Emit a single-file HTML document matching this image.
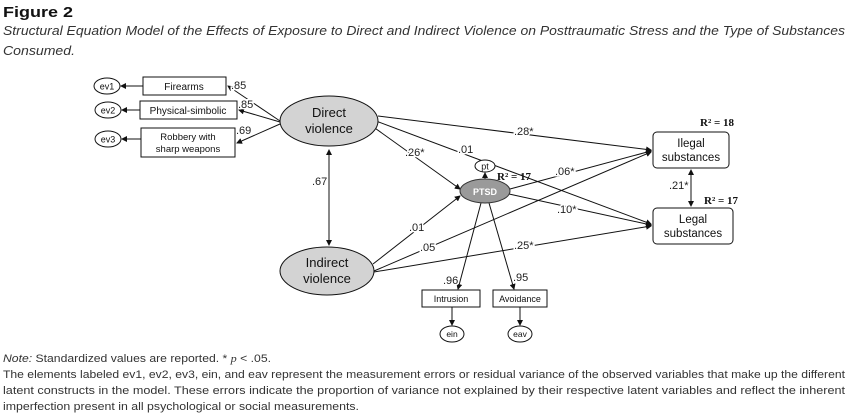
<!DOCTYPE html>
<html><head><meta charset="utf-8"><style>
html,body{margin:0;padding:0;background:#fff;}
svg{display:block;font-family:"Liberation Sans",Arial,sans-serif;}
.lb{font-size:11px;fill:#222;stroke:#fff;stroke-width:3px;paint-order:stroke;}
.ln{stroke:#111;stroke-width:1;fill:none;marker-end:url(#a);}
.r2{font-family:"Liberation Serif",serif;font-weight:bold;font-size:11px;fill:#111;}
</style></head><body>
<svg width="854" height="420" viewBox="0 0 854 420" xmlns="http://www.w3.org/2000/svg">
<defs>
<marker id="a" markerWidth="6" markerHeight="6" refX="5" refY="3" orient="auto" markerUnits="userSpaceOnUse"><path d="M0,0 L6,3 L0,6 z" fill="#111"/></marker>
<marker id="b" markerWidth="6" markerHeight="6" refX="1" refY="3" orient="auto" markerUnits="userSpaceOnUse"><path d="M6,0 L0,3 L6,6 z" fill="#111"/></marker>
</defs>
<text x="3" y="17" font-size="15" font-weight="bold" fill="#111" textLength="70" lengthAdjust="spacingAndGlyphs">Figure 2</text>
<text x="3" y="35" font-size="12.5" font-style="italic" fill="#333" textLength="842" lengthAdjust="spacingAndGlyphs">Structural Equation Model of the Effects of Exposure to Direct and Indirect Violence on Posttraumatic Stress and the Type of Substances</text>
<text x="3" y="55" font-size="12.5" font-style="italic" fill="#333" textLength="72" lengthAdjust="spacingAndGlyphs">Consumed.</text>

<line class="ln" x1="280" y1="121" x2="228" y2="86"/>
<line class="ln" x1="280" y1="122" x2="239" y2="110"/>
<line class="ln" x1="280" y1="124" x2="237" y2="143"/>
<line class="ln" x1="143" y1="86" x2="121" y2="86"/>
<line class="ln" x1="140" y1="110" x2="122" y2="110"/>
<line class="ln" x1="141" y1="139" x2="122" y2="139"/>
<line x1="329" y1="150" x2="329" y2="245" stroke="#111" marker-start="url(#b)" marker-end="url(#a)"/>
<line class="ln" x1="378" y1="116" x2="651" y2="150"/>
<line class="ln" x1="372" y1="126" x2="460" y2="189"/>
<line class="ln" x1="376" y1="121" x2="651" y2="224"/>
<line class="ln" x1="373" y1="264" x2="460" y2="196"/>
<line class="ln" x1="374" y1="271" x2="651" y2="152"/>
<line class="ln" x1="374" y1="272" x2="651" y2="226"/>
<line class="ln" x1="510" y1="189" x2="651" y2="151"/>
<line class="ln" x1="509" y1="194" x2="651" y2="225"/>
<line class="ln" x1="481" y1="203" x2="458" y2="289"/>
<line class="ln" x1="489" y1="203" x2="514" y2="289"/>
<line class="ln" x1="485" y1="179" x2="485" y2="173"/>
<line class="ln" x1="452" y1="307" x2="452" y2="325"/>
<line class="ln" x1="520" y1="307" x2="520" y2="325"/>
<line x1="691" y1="170" x2="691" y2="206" stroke="#111" marker-start="url(#b)" marker-end="url(#a)"/>

<g stroke="#111" fill="#fff">
<ellipse cx="107" cy="86" rx="13" ry="8"/>
<ellipse cx="108" cy="110" rx="13" ry="8"/>
<ellipse cx="108" cy="139" rx="13" ry="8"/>
<rect x="143" y="77" width="83" height="18"/>
<rect x="140" y="101" width="97" height="18"/>
<rect x="141" y="128" width="94" height="29"/>
<ellipse cx="329" cy="121" rx="49" ry="25" fill="#d3d3d3"/>
<ellipse cx="327" cy="271" rx="47" ry="24" fill="#d3d3d3"/>
<ellipse cx="485" cy="191" rx="25" ry="12" fill="#9a9a9a" stroke="#333"/>
<ellipse cx="485" cy="166" rx="10" ry="6"/>
<rect x="653" y="132" width="76" height="36" rx="4"/>
<rect x="653" y="208" width="80" height="36" rx="4"/>
<rect x="422" y="290" width="58" height="17"/>
<rect x="493" y="290" width="54" height="17"/>
<ellipse cx="452" cy="334" rx="12" ry="8"/>
<ellipse cx="520" cy="334" rx="12" ry="8"/>
</g>

<g font-size="10" fill="#111" text-anchor="middle">
<text x="107" y="89.5" font-size="9">ev1</text>
<text x="108" y="113.5" font-size="9">ev2</text>
<text x="108" y="142.5" font-size="9">ev3</text>
<text x="184" y="90">Firearms</text>
<text x="188" y="114">Physical-simbolic</text>
<text x="188" y="140" font-size="9.5">Robbery with</text>
<text x="188" y="152" font-size="9.5">sharp weapons</text>
<text x="329" y="117" font-size="13">Direct</text>
<text x="329" y="133" font-size="13">violence</text>
<text x="327" y="267" font-size="13">Indirect</text>
<text x="327" y="283" font-size="13">violence</text>
<text x="485" y="195" font-size="9" font-weight="bold" fill="#fff">PTSD</text>
<text x="485" y="169.5" font-size="9">pt</text>
<text x="691" y="147" font-size="11.5">Ilegal</text>
<text x="691" y="161" font-size="11.5">substances</text>
<text x="693" y="223" font-size="11.5">Legal</text>
<text x="693" y="237" font-size="11.5">substances</text>
<text x="451" y="302" font-size="9">Intrusion</text>
<text x="520" y="302" font-size="9">Avoidance</text>
<text x="452" y="337" font-size="8.5">ein</text>
<text x="520" y="337" font-size="8.5">eav</text>
</g>

<text class="lb" x="231" y="89">.85</text>
<text class="lb" x="238" y="108">.85</text>
<text class="lb" x="236" y="134">.69</text>
<text class="lb" x="312" y="185">.67</text>
<text class="lb" x="514" y="135">.28*</text>
<text class="lb" x="405" y="156">.26*</text>
<text class="lb" x="458" y="153">.01</text>
<text class="lb" x="555" y="175">.06*</text>
<text class="lb" x="557" y="213">.10*</text>
<text class="lb" x="409" y="231">.01</text>
<text class="lb" x="420" y="251">.05</text>
<text class="lb" x="514" y="249">.25*</text>
<text class="lb" x="443" y="284">.96</text>
<text class="lb" x="513" y="281">.95</text>
<text class="lb" x="669" y="189">.21*</text>
<text class="r2" x="700" y="126">R² = 18</text>
<text class="r2" x="704" y="204">R² = 17</text>
<text class="r2" x="497" y="180">R² = 17</text>

<g font-size="11" fill="#333">
<text x="3" y="362" textLength="268" lengthAdjust="spacingAndGlyphs"><tspan font-style="italic">Note:</tspan> Standardized values are reported. * <tspan font-style="italic" font-family="Liberation Serif,serif">p</tspan> &lt; .05.</text>
<text x="3" y="378" textLength="842" lengthAdjust="spacingAndGlyphs">The elements labeled ev1, ev2, ev3, ein, and eav represent the measurement errors or residual variance of the observed variables that make up the different</text>
<text x="3" y="394" textLength="842" lengthAdjust="spacingAndGlyphs">latent constructs in the model. These errors indicate the proportion of variance not explained by their respective latent variables and reflect the inherent</text>
<text x="3" y="410" textLength="356" lengthAdjust="spacingAndGlyphs">imperfection present in all psychological or social measurements.</text>
</g>
</svg>
</body></html>
